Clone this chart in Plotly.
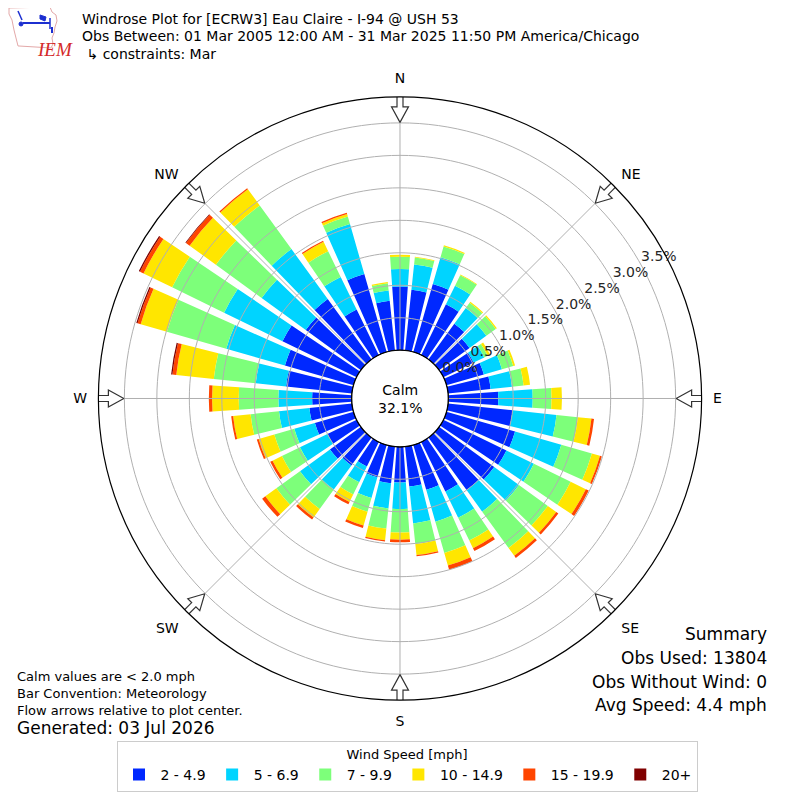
import math

import plotly.graph_objects as go

# wind directions (deg) and the per-bin share of observations (%)
DIRECTIONS = list(range(0, 360, 10))
SPEED_BINS = ["2 - 4.9", "5 - 6.9", "7 - 9.9", "10 - 14.9", "15 - 19.9", "20+"]
BIN_COLORS = ["#0028ff", "#00d4ff", "#7dff7a", "#ffe600", "#ff4500", "#800000"]

SPEED_2_5 = [0.98, 0.94, 1.09, 0.87, 0.68, 0.58, 0.52, 0.60, 0.66, 0.77,
             1.00, 1.10, 1.08, 1.05, 1.00, 0.85, 0.72, 0.62, 0.55,
             0.57, 0.52, 0.42, 0.53, 0.59, 0.50, 0.62, 0.66, 0.61,
             1.02, 1.10, 1.27, 1.05, 1.15, 0.78, 1.25, 0.77]
SPEED_5_7 = [0.27, 0.39, 0.43, 0.32, 0.30, 0.32, 0.18, 0.29, 0.33, 0.53,
             0.68, 0.74, 0.47, 0.47, 0.41, 0.45, 0.51, 0.57, 0.41,
             0.39, 0.33, 0.27, 0.46, 0.57, 0.47, 0.33, 0.47, 0.52,
             0.47, 0.94, 1.00, 0.84, 0.95, 0.56, 0.80, 0.16]
SPEED_7_10 = [0.19, 0.11, 0.17, 0.18, 0.10, 0.18, 0.06, 0.18, 0.18, 0.29,
              0.33, 0.49, 0.63, 0.55, 0.69, 0.39, 0.50, 0.32, 0.36,
              0.31, 0.22, 0.21, 0.37, 0.45, 0.31, 0.32, 0.44, 0.61,
              0.65, 0.95, 0.89, 0.87, 0.83, 0.44, 0.12, 0.11]
SPEED_10_15 = [0.03, 0.01, 0.02, 0.01, 0.02, 0.02, 0.04, 0.03, 0.10, 0.16,
               0.21, 0.13, 0.26, 0.16, 0.15, 0.13, 0.20, 0.17, 0.11,
               0.18, 0.22, 0.13, 0.16, 0.21, 0.16, 0.25, 0.27, 0.41,
               0.58, 0.42, 0.49, 0.50, 0.31, 0.16, 0.04, 0.02]
SPEED_15_20 = [0, 0, 0, 0, 0, 0, 0, 0, 0, 0,
               0.04, 0.03, 0.05, 0.04, 0.04, 0.05, 0.07, 0.02, 0.04,
               0.02, 0.04, 0.04, 0.04, 0.06, 0.04, 0.03, 0.03, 0.05,
               0.06, 0.05, 0.06, 0.07, 0.02, 0.02, 0.02, 0]
SPEED_20_UP = [0, 0, 0, 0, 0, 0, 0, 0, 0, 0,
               0, 0, 0, 0, 0, 0, 0, 0, 0,
               0, 0, 0, 0, 0, 0, 0, 0, 0,
               0.02, 0.02, 0.02, 0.01, 0, 0, 0, 0]
SPEED_SERIES = [SPEED_2_5, SPEED_5_7, SPEED_7_10, SPEED_10_15, SPEED_15_20, SPEED_20_UP]

RADIAL_TICKS = [0.0, 0.5, 1.0, 1.5, 2.0, 2.5, 3.0, 3.5]
RADIAL_LABELS = ["0.0%", "0.5%", "1.0%", "1.5%", "2.0%", "2.5%", "3.0%", "3.5%"]
COMPASS_ANGLES = [0, 45, 90, 135, 180, 225, 270, 315]
COMPASS_LABELS = ["N", "NE", "E", "SE", "S", "SW", "W", "NW"]
CALM_PCT = 32.1

TITLE_LINES = [
    "Windrose Plot for [ECRW3] Eau Claire - I-94 @ USH 53",
    "Obs Between: 01 Mar 2005 12:00 AM - 31 Mar 2025 11:50 PM America/Chicago",
    " \u21b3 constraints: Mar",
]
NOTES = ["Calm values are < 2.0 mph", "Bar Convention: Meteorology",
         "Flow arrows relative to plot center."]
SUMMARY = ["Summary", "Obs Used: 13804", "Obs Without Wind: 0", "Avg Speed: 4.4 mph"]

FONT = "DejaVu Sans"
GRID = "#b0b0b0"
LOGO_BLUE = "#1c2fd0"

# page geometry in window pixels; the page body adds an 8 px margin
PAGE_PAD = 8
W = H = 800 - 2 * PAGE_PAD
CX, CY = 400, 399
OUTER_PX = 302
HOLE = 0.16
R_MAX = 3.9
HOLE_PX = OUTER_PX * HOLE
PX_PER_UNIT = OUTER_PX * (1 - HOLE) / R_MAX
LABEL_BEARING = 61  # compass bearing of the radial tick labels


def px_x(x):
    return (x - PAGE_PAD) / W


def px_y(y):
    return 1 - (y - PAGE_PAD) / H


def px_to_r(p):
    return (p - HOLE_PX) / PX_PER_UNIT


def px_path(points, close=True):
    parts = [f"{'M' if i == 0 else 'L'} {px_x(x):.5f} {px_y(y):.5f}"
             for i, (x, y) in enumerate(points)]
    return " ".join(parts) + (" Z" if close else "")


def arrow_outline(angle):
    # hollow flow arrow pointing to the centre, given as (distance, side offset) px
    pts = [(306, -3), (292, -3), (292, -8.5), (276.5, 0), (292, 8.5),
           (292, 3), (306, 3), (306, -3)]
    r = [px_to_r(math.hypot(a, s)) for a, s in pts]
    th = [angle + math.degrees(math.atan2(s, a)) for a, s in pts]
    return r, th


fig = go.Figure()

for name, values, color in zip(SPEED_BINS, SPEED_SERIES, BIN_COLORS):
    fig.add_trace(go.Barpolar(
        r=values, theta=DIRECTIONS, width=8, name=name,
        marker=dict(color=color, line=dict(width=0)),
    ))

# grid drawn above the bars, like the original
ring_theta = list(range(0, 362, 2))
ring_r, ring_t = [], []
for tick in RADIAL_TICKS[1:]:
    ring_r += [tick] * len(ring_theta) + [None]
    ring_t += ring_theta + [None]
for ang in COMPASS_ANGLES:
    ring_r += [0, R_MAX, None]
    ring_t += [ang, ang, None]
fig.add_trace(go.Scatterpolar(
    r=ring_r, theta=ring_t, mode="lines", line=dict(color=GRID, width=1),
    showlegend=False, hoverinfo="skip",
))

# calm circle border
fig.add_trace(go.Scatterpolar(
    r=[0] * len(ring_theta), theta=ring_theta, mode="lines",
    line=dict(color="black", width=1.3), showlegend=False, hoverinfo="skip",
))

# radial tick labels sit just past each ring
fig.add_trace(go.Scatterpolar(
    r=RADIAL_TICKS, theta=[LABEL_BEARING] * len(RADIAL_TICKS), mode="text",
    text=RADIAL_LABELS, textposition="top right",
    textfont=dict(size=14, color="#262626"), cliponaxis=False,
    showlegend=False, hoverinfo="skip",
))

for ang in COMPASS_ANGLES:
    ar, at = arrow_outline(ang)
    fig.add_trace(go.Scatterpolar(
        r=ar, theta=at, mode="lines", fill="toself", fillcolor="white",
        line=dict(color="#333333", width=1.2), cliponaxis=False,
        showlegend=False, hoverinfo="skip",
    ))

fig.update_layout(
    width=W, height=H,
    margin=dict(l=0, r=0, t=0, b=0),
    paper_bgcolor="white",
    font=dict(family=FONT, color="black"),
    polar=dict(
        domain=dict(x=[px_x(CX - OUTER_PX), px_x(CX + OUTER_PX)],
                    y=[px_y(CY + OUTER_PX), px_y(CY - OUTER_PX)]),
        hole=HOLE,
        bgcolor="white",
        barmode="stack",
        radialaxis=dict(
            range=[0, R_MAX], tickvals=RADIAL_TICKS, showticklabels=False,
            showgrid=False, showline=False, ticks="",
        ),
        angularaxis=dict(
            rotation=90, direction="clockwise",
            tickvals=COMPASS_ANGLES, ticktext=COMPASS_LABELS,
            showgrid=False, showline=True, linecolor="black", linewidth=1.2,
            ticks="outside", ticklen=8, tickcolor="rgba(0,0,0,0)",
            tickfont=dict(size=14, color="black"),
        ),
    ),
    legend=dict(
        orientation="h", x=px_x(407), xanchor="center", y=px_y(742), yanchor="top",
        bordercolor="#cccccc", borderwidth=1, bgcolor="white",
        title=dict(text="Wind Speed [mph]", side="top center", font=dict(size=13)),
        font=dict(size=14), itemwidth=33, traceorder="normal",
    ),
)

for i, line in enumerate(TITLE_LINES):
    fig.add_annotation(text=line, x=px_x(80), y=px_y(19 + 17.5 * i), xref="paper",
                       yref="paper", xanchor="left", yanchor="middle",
                       showarrow=False, font=dict(size=14))

for i, line in enumerate(NOTES):
    fig.add_annotation(text=line, x=px_x(15), y=px_y(677 + 17 * i), xref="paper",
                       yref="paper", xanchor="left", yanchor="middle",
                       showarrow=False, font=dict(size=13))
fig.add_annotation(text="Generated: 03 Jul 2026", x=px_x(15), y=px_y(729),
                   xref="paper", yref="paper", xanchor="left", yanchor="middle",
                   showarrow=False, font=dict(size=17))

for i, line in enumerate(SUMMARY):
    fig.add_annotation(text=line, x=px_x(769), y=px_y(635 + 23.7 * i), xref="paper",
                       yref="paper", xanchor="right", yanchor="middle",
                       showarrow=False, font=dict(size=17))

fig.add_annotation(text=f"Calm<br>{CALM_PCT:.1f}%", x=px_x(CX), y=px_y(CY),
                   xref="paper", yref="paper", showarrow=False,
                   font=dict(size=14))

# IEM logo: state outline, wind glyph and lettering
iowa = [(9, 8), (50, 7), (52, 12), (56, 15), (57, 21), (55, 27), (54, 33),
        (52, 38), (53, 44), (51, 48), (18, 46), (16, 38), (14, 30), (12, 20),
        (9, 14)]
fig.add_shape(type="path", xref="paper", yref="paper", path=px_path(iowa),
              line=dict(color="#e3a8a8", width=1))
fig.add_shape(type="line", xref="paper", yref="paper", x0=px_x(23), y0=px_y(23),
              x1=px_x(50), y1=px_y(23), line=dict(color=LOGO_BLUE, width=2))
fig.add_shape(type="line", xref="paper", yref="paper", x0=px_x(50), y0=px_y(18),
              x1=px_x(50), y1=px_y(29), line=dict(color=LOGO_BLUE, width=1.5))
fig.add_shape(type="path", xref="paper", yref="paper",
              path=px_path([(40, 15), (46, 17), (45, 21), (40, 19)]),
              fillcolor=LOGO_BLUE, line=dict(color=LOGO_BLUE, width=1))
fig.add_shape(type="line", xref="paper", yref="paper", x0=px_x(18), y0=px_y(11),
              x1=px_x(22), y1=px_y(20), line=dict(color=LOGO_BLUE, width=1.5))
fig.add_shape(type="circle", xref="paper", yref="paper", x0=px_x(19), y0=px_y(22),
              x1=px_x(23), y1=px_y(26), fillcolor=LOGO_BLUE,
              line=dict(color=LOGO_BLUE, width=1))
fig.add_shape(type="line", xref="paper", yref="paper", x0=px_x(52), y0=px_y(27),
              x1=px_x(52), y1=px_y(33), line=dict(color=LOGO_BLUE, width=2))
fig.add_annotation(text="IEM", x=px_x(35), y=px_y(37), xref="paper", yref="paper",
                   showarrow=False,
                   font=dict(family="Liberation Serif", size=19, color="#d42a2a",
                             style="italic"))

fig.write_html("out.html")
